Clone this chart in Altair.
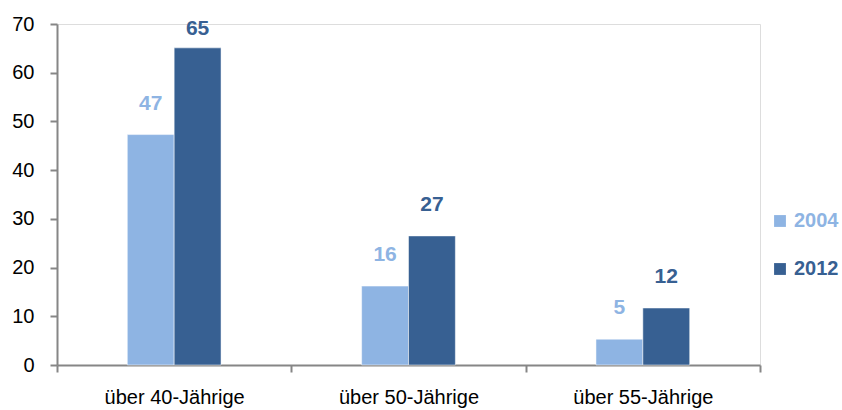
import altair as alt
import pandas as pd

groups = ["über 40-Jährige", "über 50-Jährige", "über 55-Jährige"]
years = ["2004", "2012"]
values_2004 = [47.3, 16.2, 5.3]
values_2012 = [65.1, 26.5, 11.7]
labels_2004 = ["47", "16", "5"]
labels_2012 = ["65", "27", "12"]
colors = ["#8EB4E3", "#376092"]

rows = []
for g, v, l in zip(groups, values_2004, labels_2004):
    rows.append({"group": g, "year": "2004", "value": v, "label": l})
for g, v, l in zip(groups, values_2012, labels_2012):
    rows.append({"group": g, "year": "2012", "value": v, "label": l})
df = pd.DataFrame(rows)

FONT = "Liberation Sans"

x = alt.X("group:N", sort=groups, title=None,
          scale=alt.Scale(paddingInner=0, paddingOuter=0),
          axis=alt.Axis(labelAngle=0, tickBand="extent", tickSize=7, labelPadding=15,
                        labelFontSize=20, labelFont=FONT, labelColor="#000000",
                        domainColor="#868686", tickColor="#868686", domainWidth=2, tickWidth=2))
# spacer slots on both sides keep the pair of bars narrow and centred in each group
xo = alt.XOffset("year:N",
                 scale=alt.Scale(domain=["_l", "2004", "2012", "_r"], paddingInner=0, paddingOuter=0.5))
color = alt.Color("year:N", sort=years, scale=alt.Scale(domain=years, range=colors),
                  legend=alt.Legend(title=None, orient="none", legendX=713, legendY=187,
                                    symbolType="square", symbolSize=140, symbolStrokeWidth=0,
                                    labelFontSize=20, labelFont=FONT, labelFontWeight="bold",
                                    labelOffset=4, rowPadding=28,
                                    labelColor=alt.ExprRef("datum.label == '2004' ? '#8EB4E3' : '#376092'")))

bars = alt.Chart(df).mark_bar(stroke="white", strokeWidth=0.5).encode(
    x=x, xOffset=xo,
    y=alt.Y("value:Q", title=None,
            scale=alt.Scale(domain=[0, 70]),
            axis=alt.Axis(values=[0, 10, 20, 30, 40, 50, 60, 70], grid=False, tickSize=7,
                          labelFontSize=20, labelFont=FONT, labelColor="#000000", labelPadding=16,
                          domainColor="#868686", tickColor="#868686", domainWidth=2, tickWidth=2)),
    color=color,
)

text = alt.Chart(df).transform_calculate(
    ly="min(datum.value, 62.6)"
).mark_text(baseline="bottom", dy=-21, fontSize=21, fontWeight="bold", font=FONT).encode(
    x=alt.X("group:N", sort=groups), xOffset=xo,
    y=alt.Y("ly:Q"),
    text="label:N",
    color=alt.Color("year:N", sort=years, scale=alt.Scale(domain=years, range=colors), legend=None),
)

chart = alt.layer(bars, text).properties(
    width=703, height=341,
    autosize=alt.AutoSizeParams(type="none"),
    padding={"left": 57, "top": 24, "right": 82, "bottom": 45},
).configure_view(stroke=None).configure(background="white")

chart.save("out.html", embed_options={"renderer": "svg", "actions": False})
